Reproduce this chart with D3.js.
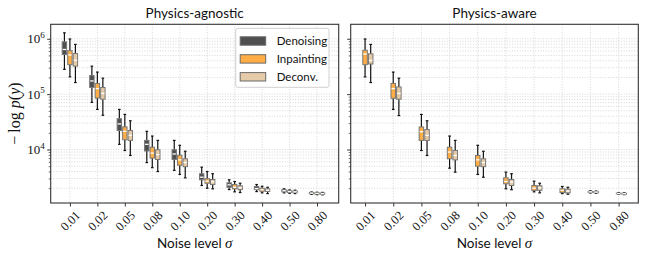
<!DOCTYPE html>
<html>
<head>
<meta charset="utf-8">
<script src="https://cdn.jsdelivr.net/npm/d3@7/dist/d3.min.js"></script>
<style>
  body { margin: 0; background: #fff; }
  svg { display: block; }
  .sans { font-family: Lato, "Open Sans", sans-serif; }
  .serif { font-family: "Liberation Serif", "DejaVu Serif", serif; }
</style>
</head>
<body>
<div id="chart"></div>
<script>
// noise levels on the x axis
const sigmas = ["0.01", "0.02", "0.05", "0.08", "0.10", "0.20", "0.30", "0.40", "0.50", "0.80"];
const methods = ["Denoising", "Inpainting", "Deconv."];
const fills = ["#4f4f4f", "#ffad47", "#e6cba8"];

// each entry: [low whisker, q1, median, q3, high whisker] of -log p(y)
const agnosticDenoising = [
  [2.8e5, 5.2e5, 6.4e5, 8.8e5, 1.28e6],
  [7.1e4, 1.32e5, 1.73e5, 2.17e5, 3.2e5],
  [1.24e4, 2.2e4, 2.9e4, 3.6e4, 5.3e4],
  [5.8e3, 9.4e3, 1.24e4, 1.46e4, 2.13e4],
  [4.2e3, 6.6e3, 8.3e3, 9.9e3, 1.46e4],
  [2.24e3, 2.84e3, 3.16e3, 3.65e3, 4.8e3],
  [1.89e3, 2.08e3, 2.3e3, 2.5e3, 2.84e3],
  [1.74e3, 1.88e3, 1.97e3, 2.15e3, 2.33e3],
  [1.65e3, 1.72e3, 1.8e3, 1.88e3, 1.95e3],
  [1.55e3, 1.59e3, 1.63e3, 1.67e3, 1.71e3]
];
const agnosticInpainting = [
  [2.05e5, 3.4e5, 5.1e5, 6.1e5, 9.9e5],
  [5.3e4, 8.5e4, 1.26e5, 1.56e5, 2.5e5],
  [9.6e3, 1.5e4, 2.13e4, 2.56e4, 4.3e4],
  [4.7e3, 7.0e3, 8.6e3, 1.1e4, 1.75e4],
  [3.55e3, 5.2e3, 6.5e3, 7.9e3, 1.19e4],
  [2.0e3, 2.46e3, 2.68e3, 2.96e3, 4.0e3],
  [1.72e3, 1.95e3, 2.08e3, 2.33e3, 2.64e3],
  [1.65e3, 1.76e3, 1.88e3, 2.0e3, 2.17e3],
  [1.62e3, 1.68e3, 1.74e3, 1.8e3, 1.86e3],
  [1.53e3, 1.57e3, 1.61e3, 1.65e3, 1.69e3]
];
const agnosticDeconv = [
  [1.62e5, 3.2e5, 4.1e5, 5.4e5, 7.9e5],
  [4.15e4, 8.1e4, 1.03e5, 1.32e5, 1.94e5],
  [7.8e3, 1.46e4, 1.8e4, 2.2e4, 3.3e4],
  [4.0e3, 6.6e3, 8.1e3, 9.9e3, 1.46e4],
  [3.08e3, 4.9e3, 5.8e3, 6.8e3, 9.3e3],
  [1.95e3, 2.33e3, 2.61e3, 2.87e3, 3.65e3],
  [1.67e3, 1.89e3, 2.03e3, 2.21e3, 2.46e3],
  [1.6e3, 1.75e3, 1.83e3, 1.95e3, 2.08e3],
  [1.6e3, 1.66e3, 1.72e3, 1.78e3, 1.84e3],
  [1.52e3, 1.56e3, 1.6e3, 1.64e3, 1.68e3]
];
const awareInpainting = [
  [2.05e5, 3.4e5, 5.3e5, 6.2e5, 9.9e5],
  [5.3e4, 8.4e4, 1.26e5, 1.56e5, 2.5e5],
  [9.6e3, 1.46e4, 2.1e4, 2.55e4, 4.3e4],
  [4.6e3, 6.8e3, 9.0e3, 1.1e4, 1.75e4],
  [3.55e3, 5.0e3, 6.5e3, 7.8e3, 1.19e4],
  [1.95e3, 2.4e3, 2.64e3, 3.08e3, 3.9e3],
  [1.72e3, 1.83e3, 2.0e3, 2.24e3, 2.68e3],
  [1.6e3, 1.67e3, 1.83e3, 1.95e3, 2.15e3],
  [1.64e3, 1.68e3, 1.72e3, 1.76e3, 1.8e3],
  [1.55e3, 1.58e3, 1.6e3, 1.63e3, 1.66e3]
];
const awareDeconv = [
  [1.62e5, 3.5e5, 4.06e5, 5.35e5, 7.9e5],
  [4.1e4, 8.1e4, 1.03e5, 1.35e5, 1.94e5],
  [7.8e3, 1.46e4, 1.8e4, 2.29e4, 3.3e4],
  [3.9e3, 6.5e3, 7.8e3, 9.6e3, 1.46e4],
  [3.16e3, 4.9e3, 5.8e3, 6.8e3, 9.3e3],
  [1.88e3, 2.24e3, 2.58e3, 2.87e3, 3.65e3],
  [1.65e3, 1.83e3, 2.03e3, 2.21e3, 2.46e3],
  [1.56e3, 1.64e3, 1.78e3, 1.92e3, 2.08e3],
  [1.62e3, 1.66e3, 1.7e3, 1.74e3, 1.78e3],
  [1.53e3, 1.56e3, 1.59e3, 1.62e3, 1.65e3]
];

const width = 648, height = 259;
const plotTop = 24.3, plotBottom = 203;

const panels = [
  { title: "Physics-agnostic", x0: 50.7, x1: 338.7, domain: [-0.70, 9.79],
    series: [[0, agnosticDenoising, -0.2], [1, agnosticInpainting, 0], [2, agnosticDeconv, 0.2]], labels: true },
  { title: "Physics-aware", x0: 350.7, x1: 638.3, domain: [-0.51, 9.70],
    series: [[1, awareInpainting, 0], [2, awareDeconv, 0.2]], labels: false }
];

const y = d3.scaleLog().domain([10 ** 3.034, 10 ** 6.261]).range([plotBottom, plotTop]);
const majors = [1e4, 1e5, 1e6];
const minors = [];
for (let e = 3; e <= 6; e++) for (let k = 2; k <= 9; k++) {
  const v = k * 10 ** e;
  if (v > y.domain()[0] && v < y.domain()[1]) minors.push(v);
}

const svg = d3.select("#chart").append("svg")
  .attr("width", width).attr("height", height);

const boxW = 0.16;

panels.forEach(p => {
  const x = d3.scaleLinear().domain(p.domain).range([p.x0, p.x1]);
  const g = svg.append("g");

  // grid
  const grid = g.append("g").attr("stroke", "#cdcdcd").attr("stroke-width", 0.8)
    .attr("stroke-dasharray", "1,1.6").attr("fill", "none");
  grid.selectAll("line.h").data(majors.concat(minors)).join("line")
    .attr("x1", p.x0).attr("x2", p.x1)
    .attr("y1", d => y(d)).attr("y2", d => y(d));
  grid.selectAll("line.v").data(d3.range(sigmas.length)).join("line")
    .attr("x1", d => x(d)).attr("x2", d => x(d))
    .attr("y1", plotTop).attr("y2", plotBottom);

  // boxes
  p.series.forEach(([m, data, off]) => {
    const bw = x(boxW) - x(0);
    const cw = bw * 0.6;
    const s = g.append("g").selectAll("g").data(data).join("g")
      .attr("transform", (d, i) => `translate(${x(i + off)},0)`);
    s.append("line").attr("y1", d => y(d[0])).attr("y2", d => y(d[1]))
      .attr("stroke", "#111").attr("stroke-width", 1.2);
    s.append("line").attr("y1", d => y(d[3])).attr("y2", d => y(d[4]))
      .attr("stroke", "#111").attr("stroke-width", 1.2);
    s.append("line").attr("x1", -cw / 2).attr("x2", cw / 2)
      .attr("y1", d => y(d[0])).attr("y2", d => y(d[0]))
      .attr("stroke", "#111").attr("stroke-width", 1.2);
    s.append("line").attr("x1", -cw / 2).attr("x2", cw / 2)
      .attr("y1", d => y(d[4])).attr("y2", d => y(d[4]))
      .attr("stroke", "#111").attr("stroke-width", 1.2);
    s.append("rect").attr("x", -bw / 2).attr("width", bw)
      .attr("y", d => y(d[3])).attr("height", d => y(d[1]) - y(d[3]))
      .attr("fill", fills[m]).attr("stroke", "#777").attr("stroke-width", 1);
    s.append("line").attr("x1", -bw / 2 + 0.5).attr("x2", bw / 2 - 0.5)
      .attr("y1", d => y(d[2])).attr("y2", d => y(d[2]))
      .attr("stroke", "#fff").attr("stroke-width", 1.3);
  });

  // frame
  g.append("rect").attr("x", p.x0).attr("y", plotTop)
    .attr("width", p.x1 - p.x0).attr("height", plotBottom - plotTop)
    .attr("fill", "none").attr("stroke", "#333").attr("stroke-width", 1.1);

  // x axis
  const xa = g.append("g").attr("transform", `translate(0,${plotBottom})`)
    .call(d3.axisBottom(x).tickValues(d3.range(sigmas.length))
      .tickFormat(i => sigmas[i]).tickSize(3.5).tickPadding(0));
  xa.select(".domain").remove();
  xa.selectAll(".tick line").attr("stroke", "#333");
  xa.selectAll(".tick text")
    .attr("class", "serif").attr("font-size", 12.5).attr("fill", "#111")
    .attr("text-anchor", "middle").attr("dominant-baseline", "central")
    .attr("y", 0).attr("dy", null)
    .attr("transform", "translate(0,18) rotate(-45)");

  // y axis ticks
  const ya = g.append("g").attr("transform", `translate(${p.x0},0)`)
    .call(d3.axisLeft(y).tickValues(majors).tickSize(3.5).tickFormat(""));
  ya.select(".domain").remove();
  ya.selectAll(".tick line").attr("stroke", "#333");
  const ym = g.append("g").attr("transform", `translate(${p.x0},0)`)
    .call(d3.axisLeft(y).tickValues(minors).tickSize(2).tickFormat(""));
  ym.select(".domain").remove();
  ym.selectAll(".tick line").attr("stroke", "#333").attr("stroke-width", 0.7);

  if (p.labels) {
    const t = g.append("g").selectAll("text").data(majors).join("text")
      .attr("class", "serif").attr("font-size", 13).attr("fill", "#111")
      .attr("text-anchor", "end")
      .attr("x", p.x0 - 6).attr("y", d => y(d) + 4.5);
    t.append("tspan").text("10");
    t.append("tspan").attr("font-size", 9).attr("dy", -5.5).text(d => Math.round(Math.log10(d)));
  }

  // title and x label
  g.append("text").attr("class", "sans").attr("font-size", 13.5).attr("fill", "#111")
    .attr("text-anchor", "middle").attr("x", (p.x0 + p.x1) / 2).attr("y", 17.5)
    .text(p.title);
  const xl = g.append("text").attr("class", "sans").attr("font-size", 13.5).attr("fill", "#111")
    .attr("text-anchor", "middle").attr("x", (p.x0 + p.x1) / 2).attr("y", 247.5);
  xl.append("tspan").text("Noise level ");
  xl.append("tspan").attr("class", "serif").attr("font-style", "italic").attr("font-size", 15).text("σ");
});

// y label
const yl = svg.append("text").attr("class", "serif").attr("font-size", 16).attr("fill", "#111")
  .attr("text-anchor", "middle")
  .attr("transform", `translate(20,${(plotTop + plotBottom) / 2}) rotate(-90)`);
yl.append("tspan").text("\u2212\u2009log ");
yl.append("tspan").attr("font-style", "italic").text("p");
yl.append("tspan").text("(");
yl.append("tspan").attr("font-style", "italic").text("y");
yl.append("tspan").text(")");

// legend
const lg = svg.append("g").attr("transform", "translate(235.7,28.3)");
lg.append("rect").attr("width", 93.3).attr("height", 59).attr("rx", 2)
  .attr("fill", "#fff").attr("fill-opacity", 0.85).attr("stroke", "#d0d0d0");
const items = lg.selectAll("g").data(methods).join("g")
  .attr("transform", (d, i) => `translate(0,${12.7 + i * 17.9})`);
items.append("rect").attr("x", 4.5).attr("y", -4.2).attr("width", 25.5).attr("height", 8.4)
  .attr("fill", (d, i) => fills[i]).attr("stroke", "#6a6a6a").attr("stroke-width", 1);
items.append("text").attr("class", "sans").attr("font-size", 11.5).attr("fill", "#111")
  .attr("x", 41).attr("y", 4).text(d => d);
</script>
</body>
</html>
